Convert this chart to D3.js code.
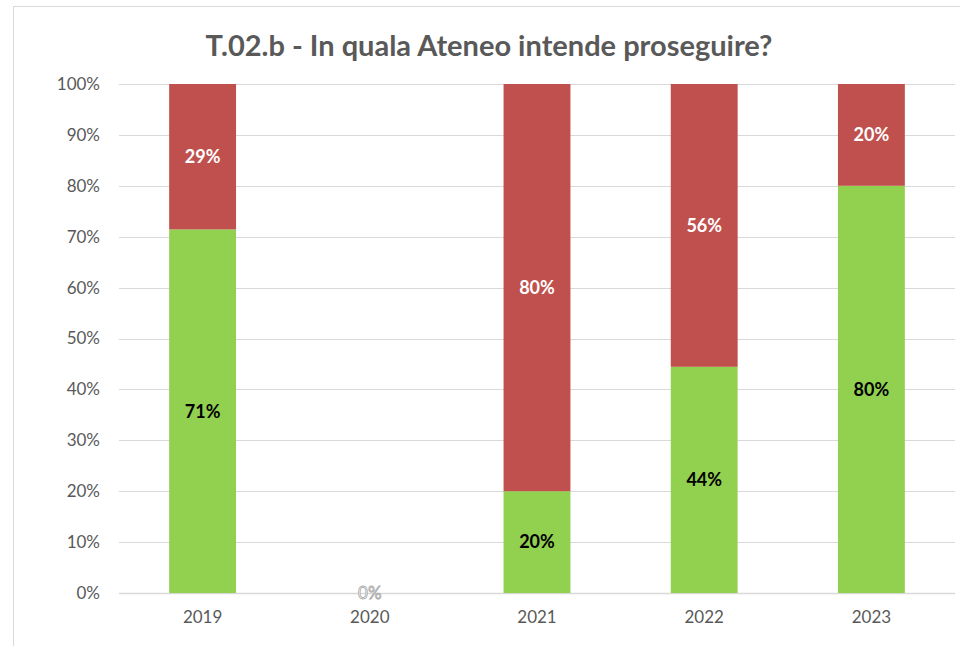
<!DOCTYPE html>
<html>
<head>
<meta charset="utf-8">
<script src="https://cdn.jsdelivr.net/npm/d3@7"></script>
<style>
	body{margin:0;background:#fff;}
	text{font-family:Lato,"Open Sans",sans-serif;}
</style>
</head>
<body>
<div id="idChart"></div>
<script>
var aYears=["2019","2020","2021","2022","2023"];
var aSi=[71.43,0,20,44.44,80];
var aNo=[28.57,0,80,55.56,20];
var aYTicks=[0,10,20,30,40,50,60,70,80,90,100];

var iWidth=960;
var iHeight=646;
var sGreen="#92D050";
var sRed="#C0504D";
var sFont="Lato,\"Open Sans\",sans-serif";

var mySvg=d3.select("#idChart").append("svg")
	.attr("width",iWidth)
	.attr("height",iHeight);

// chart frame
mySvg.append("rect")
	.attr("x",13.5).attr("y",6.5)
	.attr("width",iWidth).attr("height",iHeight)
	.attr("fill","none")
	.attr("stroke","#D9D9D9");

mySvg.append("text")
	.attr("x",489).attr("y",56)
	.attr("text-anchor","middle")
	.attr("font-size",29)
	.attr("font-weight","bold")
	.attr("fill","#595959")
	.text("T.02.b - In quala Ateneo intende proseguire?");

var xScale=d3.scaleBand()
	.domain(aYears)
	.range([119,955])
	.paddingInner(0.6)
	.paddingOuter(0.3);

var yScale=d3.scaleLinear()
	.domain([0,100])
	.range([593,84]);

// gridlines
mySvg.append("g").selectAll("line")
	.data(aYTicks)
	.enter().append("line")
		.attr("x1",119).attr("x2",955)
		.attr("y1",function(d){return Math.round(yScale(d))+0.5;})
		.attr("y2",function(d){return Math.round(yScale(d))+0.5;})
		.attr("stroke","#D9D9D9")
		.attr("stroke-width",function(d){return d==0?1.5:1;});

var yAxis=mySvg.append("g")
	.attr("transform","translate(100,0)")
	.call(d3.axisLeft(yScale).tickValues(aYTicks).tickSize(0).tickPadding(0)
		.tickFormat(function(d){return d+"%";}));
yAxis.select(".domain").remove();
yAxis.selectAll("text").attr("font-size",17).attr("fill","#595959")
	.attr("font-family",sFont);

var xAxis=mySvg.append("g")
	.attr("transform","translate(0,593)")
	.call(d3.axisBottom(xScale).tickSize(0).tickPadding(18));
xAxis.select(".domain").remove();
xAxis.selectAll("text").attr("font-size",17).attr("fill","#595959")
	.attr("font-family",sFont);

var aRows=aYears.map(function(sYear,i){return {year:sYear,si:aSi[i],no:aNo[i]};});

var myBars=mySvg.append("g").selectAll("g")
	.data(aRows)
	.enter().append("g");

myBars.append("rect")
	.attr("x",function(d){return xScale(d.year);})
	.attr("width",xScale.bandwidth())
	.attr("y",function(d){return yScale(d.si);})
	.attr("height",function(d){return yScale(0)-yScale(d.si);})
	.attr("fill",sGreen);

myBars.append("rect")
	.attr("x",function(d){return xScale(d.year);})
	.attr("width",xScale.bandwidth())
	.attr("y",function(d){return yScale(d.si+d.no);})
	.attr("height",function(d){return yScale(d.si)-yScale(d.si+d.no);})
	.attr("fill",sRed);

myBars.filter(function(d){return d.si>0;}).append("text")
	.attr("x",function(d){return xScale(d.year)+xScale.bandwidth()/2;})
	.attr("y",function(d){return yScale(d.si/2);})
	.attr("dy","0.35em")
	.attr("text-anchor","middle")
	.attr("font-size",18).attr("font-weight","bold")
	.attr("fill","#000")
	.text(function(d){return Math.round(d.si)+"%";});

myBars.filter(function(d){return d.no>0;}).append("text")
	.attr("x",function(d){return xScale(d.year)+xScale.bandwidth()/2;})
	.attr("y",function(d){return yScale(d.si+d.no/2);})
	.attr("dy","0.35em")
	.attr("text-anchor","middle")
	.attr("font-size",18).attr("font-weight","bold")
	.attr("fill","#fff")
	.text(function(d){return Math.round(d.no)+"%";});

// empty year label
myBars.filter(function(d){return d.si+d.no==0;}).append("text")
	.attr("x",function(d){return xScale(d.year)+xScale.bandwidth()/2;})
	.attr("y",yScale(0))
	.attr("dy","0.35em")
	.attr("text-anchor","middle")
	.attr("font-size",17)
	.attr("fill","#fff")
	.attr("stroke","#A6A6A6")
	.attr("stroke-width",0.8)
	.text("0%");
</script>
</body>
</html>
